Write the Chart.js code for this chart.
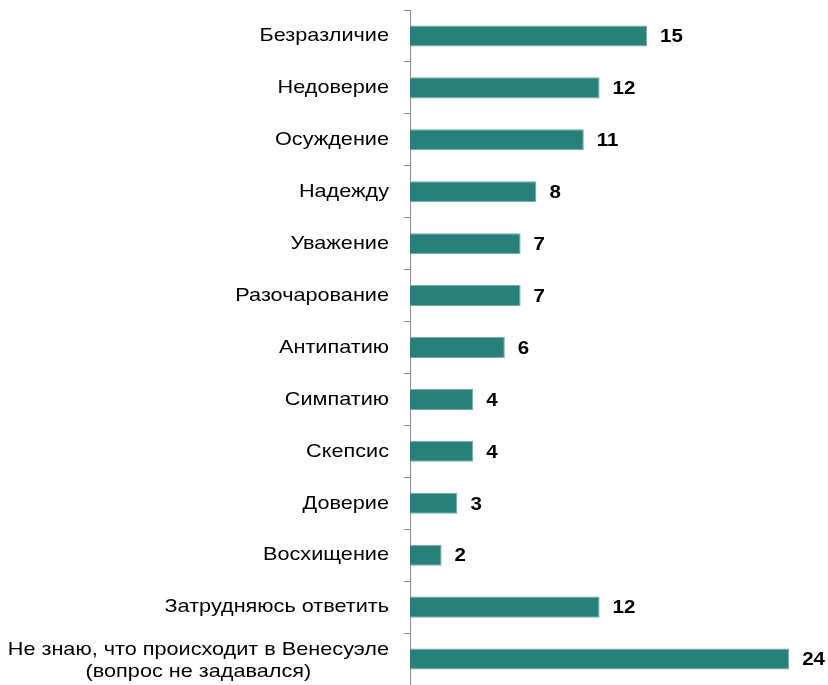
<!DOCTYPE html>
<html>
<head>
<meta charset="utf-8">
<script src="https://cdn.jsdelivr.net/npm/chart.js@4"></script>
<style>
  body { margin: 0; background: #fff; }
</style>
</head>
<body>
<canvas id="chart" width="828" height="685"></canvas>
<script>
const categories = [
  'Безразличие',
  'Недоверие',
  'Осуждение',
  'Надежду',
  'Уважение',
  'Разочарование',
  'Антипатию',
  'Симпатию',
  'Скепсис',
  'Доверие',
  'Восхищение',
  'Затрудняюсь ответить',
  ['Не знаю, что происходит в Венесуэле', '(вопрос не задавался)']
];
const values = [15, 12, 11, 8, 7, 7, 6, 4, 4, 3, 2, 12, 24];

const barColor = '#27807a';
const labelFont = '19px "Liberation Sans", Arial, sans-serif';
const valueFont = 'bold 19px "Liberation Sans", Arial, sans-serif';

// the source text is a bit wider than Liberation Sans, so stretch it sideways
function stretchedText(ctx, text, x, y, sx) {
  ctx.save();
  ctx.translate(x, y);
  ctx.scale(sx, 1);
  ctx.fillText(text, 0, 0);
  ctx.restore();
}

// draws category names (multi-line ones centred on each other) and bar values
const labelsPlugin = {
  id: 'labels',
  afterDatasetsDraw(chart) {
    const ctx = chart.ctx;
    const yScale = chart.scales.y;
    const meta = chart.getDatasetMeta(0);
    const sx = 1.14;
    ctx.save();
    ctx.fillStyle = '#000';
    ctx.textBaseline = 'middle';

    ctx.font = labelFont;
    ctx.textAlign = 'center';
    const rightX = yScale.right - 21;
    categories.forEach((label, i) => {
      const y = yScale.getPixelForTick(i);
      const lines = Array.isArray(label) ? label : [label];
      const lineH = 22;
      let maxW = 0;
      lines.forEach(l => { maxW = Math.max(maxW, ctx.measureText(l).width * sx); });
      const shift = lines.length > 1 ? 1.5 : 0;
      lines.forEach((l, k) => {
        const ly = y + shift + (k - (lines.length - 1) / 2) * lineH;
        stretchedText(ctx, l, rightX - maxW / 2, ly, sx);
      });
    });

    ctx.font = valueFont;
    ctx.textAlign = 'left';
    meta.data.forEach((bar, i) => {
      stretchedText(ctx, String(values[i]), bar.x + 13, bar.y + 1, 1.08);
    });
    ctx.restore();
  }
};

new Chart(document.getElementById('chart'), {
  type: 'bar',
  data: {
    labels: categories,
    datasets: [{
      data: values,
      backgroundColor: barColor,
      borderColor: '#74aca7',
      borderWidth: 1,
      borderSkipped: 'left',
      barPercentage: 0.405,
      categoryPercentage: 1
    }]
  },
  options: {
    indexAxis: 'y',
    responsive: false,
    animation: false,
    layout: { padding: { top: 10, right: 23, bottom: 0, left: 0 } },
    plugins: {
      legend: { display: false },
      tooltip: { enabled: false }
    },
    scales: {
      x: {
        display: false,
        min: 0,
        max: 25
      },
      y: {
        afterFit(scale) { scale.width = 410; },
        ticks: { display: false },
        border: { display: true, color: '#8c8c8c', width: 1 },
        grid: {
          offset: true,
          drawOnChartArea: false,
          drawTicks: true,
          tickLength: 6,
          color: '#8c8c8c'
        }
      }
    }
  },
  plugins: [labelsPlugin]
});
</script>
</body>
</html>
